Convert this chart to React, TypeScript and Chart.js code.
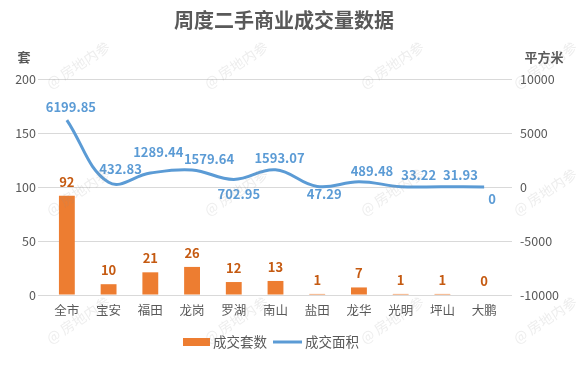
import React, { useEffect, useRef } from "react";
import { Chart, registerables } from "chart.js";

Chart.register(...registerables);

const categories = ["全市", "宝安", "福田", "龙岗", "罗湖", "南山", "盐田", "龙华", "光明", "坪山", "大鹏"];
const units = [92, 10, 21, 26, 12, 13, 1, 7, 1, 1, 0];
const area = [6199.85, 432.83, 1289.44, 1579.64, 702.95, 1593.07, 47.29, 489.48, 33.22, 31.93, 0];
const leftTicks = [0, 50, 100, 150, 200];
const rightTicks = [-10000, -5000, 0, 5000, 10000];

const TITLE = "周度二手商业成交量数据";
const LEFT_UNIT = "套";
const RIGHT_UNIT = "平方米";
const BAR_LABEL = "成交套数";
const LINE_LABEL = "成交面积";
const WATERMARK = "@ 房地内参";

// label offsets (dx, dy) for line value labels, relative to each point
const lineLabelOffsets: [number, number][] = [
  [4, -13], [12, -13], [8, -21], [17, -11], [5, 15], [4, -12],
  [7, 8], [13, -11], [18, -12], [18, -12], [8, 12],
];

const FONT = '"Noto Sans CJK SC", "Noto Sans", sans-serif';
const GRAY = "#595959";
const ORANGE = "#ED7D31";
const ORANGE_DARK = "#C55A11";
const BLUE = "#5B9BD5";

const overlayPlugin = {
  id: "overlay",
  afterDatasetsDraw(chart: any) {
    const ctx = chart.ctx;
    ctx.save();
    const barMeta = chart.getDatasetMeta(1);
    ctx.font = `bold 13px ${FONT}`;
    ctx.fillStyle = ORANGE_DARK;
    ctx.textAlign = "center";
    ctx.textBaseline = "middle";
    barMeta.data.forEach((el: any, i: number) => {
      ctx.fillText(String(units[i]), el.x, el.y - 14);
    });
    const lineMeta = chart.getDatasetMeta(0);
    ctx.fillStyle = BLUE;
    lineMeta.data.forEach((el: any, i: number) => {
      const [dx, dy] = lineLabelOffsets[i];
      ctx.fillText(String(area[i]), el.x + dx, el.y + dy);
    });
    ctx.restore();
  },
  afterDraw(chart: any) {
    const ctx = chart.ctx;
    ctx.save();
    ctx.textBaseline = "middle";
    ctx.font = `bold 20px ${FONT}`;
    ctx.fillStyle = GRAY;
    ctx.textAlign = "center";
    ctx.fillText(TITLE, 284, 20);
    ctx.font = `bold 13px ${FONT}`;
    ctx.fillText(LEFT_UNIT, 24, 57);
    ctx.fillText(RIGHT_UNIT, 544, 57);
    ctx.fillStyle = ORANGE;
    ctx.fillRect(183, 338, 27, 8);
    ctx.font = `13.5px ${FONT}`;
    ctx.fillStyle = GRAY;
    ctx.textAlign = "left";
    ctx.fillText(BAR_LABEL, 213, 342);
    ctx.strokeStyle = BLUE;
    ctx.lineWidth = 3;
    ctx.beginPath();
    ctx.moveTo(273, 342);
    ctx.lineTo(302, 342);
    ctx.stroke();
    ctx.fillText(LINE_LABEL, 305, 342);
    ctx.font = `14px ${FONT}`;
    ctx.fillStyle = "rgba(140,140,140,0.16)";
    ctx.textAlign = "center";
    const cols = [78, 236, 392, 545];
    const rows = [65, 192, 320];
    rows.forEach((ry) => {
      cols.forEach((cx) => {
        ctx.save();
        ctx.translate(cx, ry);
        ctx.rotate(-0.58);
        ctx.fillText(WATERMARK, 0, 0);
        ctx.restore();
      });
    });
    ctx.restore();
  },
};

export default function App() {
  const ref = useRef<HTMLCanvasElement | null>(null);
  useEffect(() => {
    if (!ref.current) return;
    const chart = new Chart(ref.current, {
      type: "bar",
      data: {
        labels: categories,
        datasets: [
          {
            type: "line",
            label: LINE_LABEL,
            data: area,
            yAxisID: "y1",
            borderColor: BLUE,
            backgroundColor: BLUE,
            borderWidth: 3,
            pointRadius: 0,
            tension: 0.4,
            order: 0,
          } as any,
          {
            type: "bar",
            label: BAR_LABEL,
            data: units,
            yAxisID: "y",
            backgroundColor: ORANGE,
            barPercentage: 0.38,
            categoryPercentage: 1,
            order: 1,
          },
        ],
      },
      options: {
        responsive: false,
        animation: false,
        layout: { padding: { top: 79, bottom: 67, left: 0, right: 0 } },
        plugins: {
          legend: { display: false },
          title: { display: false },
          tooltip: { enabled: false },
        },
        scales: {
          x: {
            offset: true,
            grid: { display: false, drawTicks: false },
            border: { display: false },
            ticks: { color: GRAY, font: { family: FONT, size: 12.5 }, padding: 8, maxRotation: 0, autoSkip: false },
            afterFit: (s: any) => { s.height = 22; },
          },
          y: {
            position: "left",
            min: 0,
            max: 200,
            afterBuildTicks: (s: any) => { s.ticks = leftTicks.map((v) => ({ value: v })); },
            grid: { color: "#d9d9d9", tickLength: 8, lineWidth: 1 },
            border: { display: false },
            ticks: { color: GRAY, font: { family: FONT, size: 12.5 }, padding: 2, callback: (v: any) => String(v) },
            afterFit: (s: any) => { s.width = 46; },
          },
          y1: {
            position: "right",
            min: -10000,
            max: 10000,
            afterBuildTicks: (s: any) => { s.ticks = rightTicks.map((v) => ({ value: v })); },
            grid: { drawOnChartArea: false, color: "#d9d9d9", tickLength: 7 },
            border: { display: false },
            ticks: { color: GRAY, font: { family: FONT, size: 12.5 }, padding: 8, callback: (v: any) => String(v) },
            afterFit: (s: any) => { s.width = 71; },
          },
        },
      },
      plugins: [overlayPlugin],
    });
    return () => chart.destroy();
  }, []);
  return (
    <div style={{ position: "absolute", left: 0, top: 0, width: 576, height: 384, background: "#fff" }}>
      <canvas ref={ref} width={576} height={384} />
    </div>
  );
}
